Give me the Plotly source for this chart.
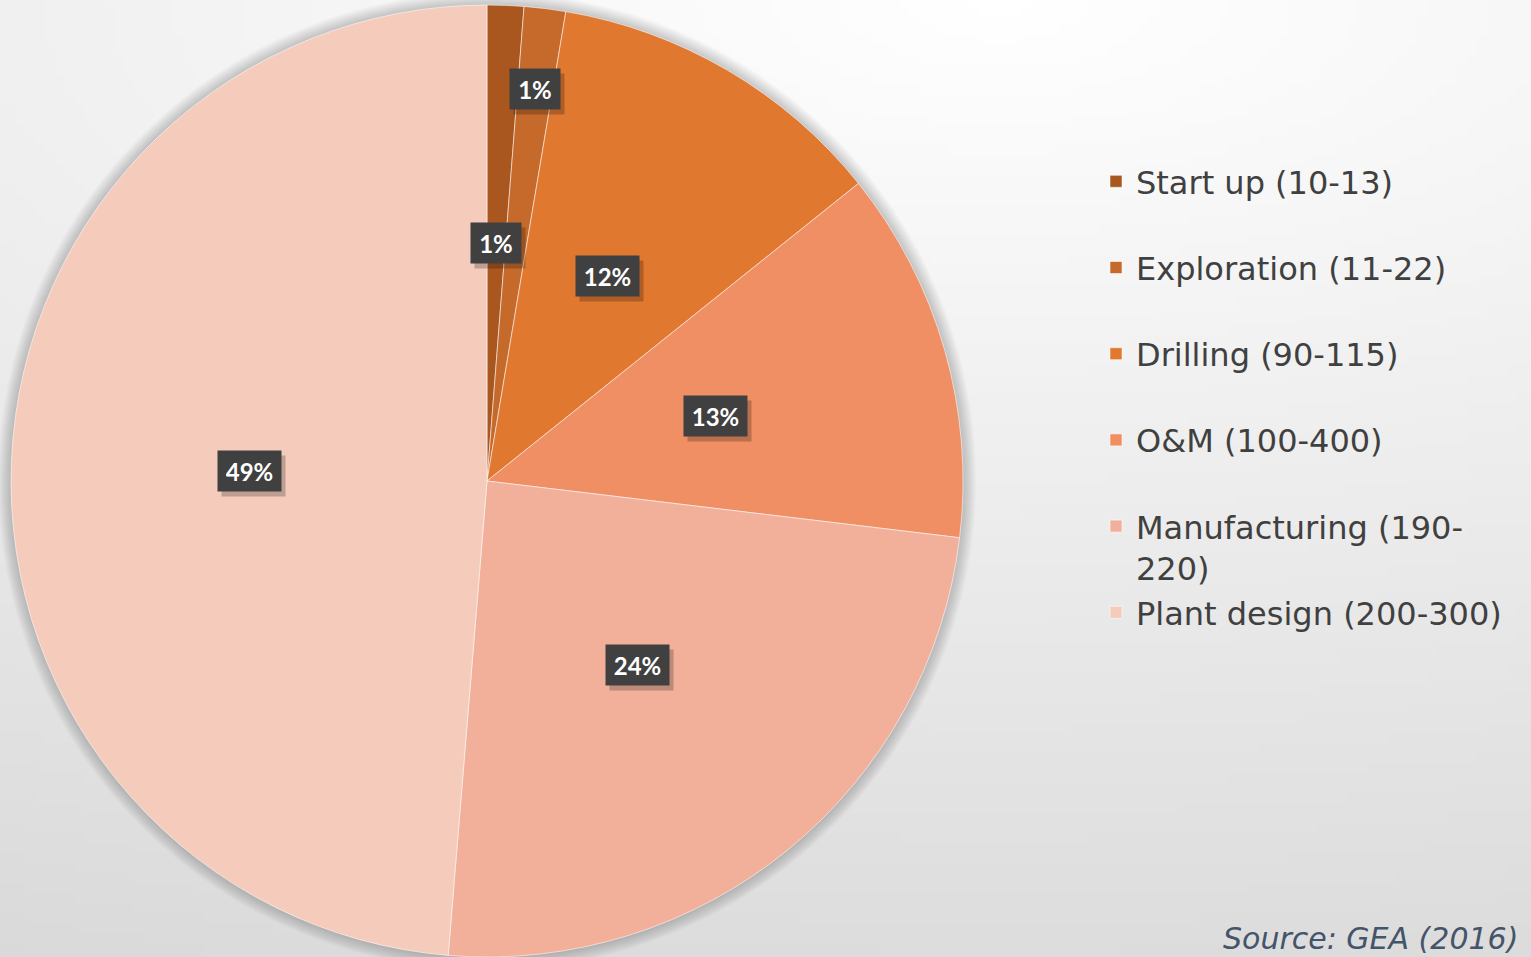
import math, zlib, struct, base64
import plotly.graph_objects as go

# ---------------- data ----------------
labels = ["Start up (10-13)", "Exploration (11-22)", "Drilling (90-115)",
          "O&M (100-400)", "Manufacturing (190-<br>220)", "Plant design (200-300)"]
shares = [1.24, 1.41, 11.6, 12.65, 24.4, 48.7]
colors = ["#a9561f", "#c66a2b", "#e07830", "#ef8f63", "#f2b09a", "#f5cbbc"]
label_radius = [0.5, 0.83, 0.5, 0.5, 0.5, 0.5]
source_text = "Source: GEA (2016)"

W, H = 1531, 957
CX, CY, R = 487, 481, 476  # pie center / radius in px (from top-left)

# ---------------- background gradient (PNG data URI) ----------------
def make_png(w, h, fn):
    raw = bytearray()
    for j in range(h):
        raw.append(0)
        for i in range(w):
            raw.append(fn(i, j))
    def chunk(t, d):
        return struct.pack(">I", len(d)) + t + d + struct.pack(">I", zlib.crc32(t + d) & 0xffffffff)
    data = b"\x89PNG\r\n\x1a\n" + chunk(b"IHDR", struct.pack(">IIBBBBB", w, h, 8, 0, 0, 0, 0)) \
        + chunk(b"IDAT", zlib.compress(bytes(raw))) + chunk(b"IEND", b"")
    return "data:image/png;base64," + base64.b64encode(data).decode()

gw, gh = 154, 96
def grad(i, j):
    X, Y = i * W / (gw - 1), j * H / (gh - 1)
    drop = math.hypot((X - 1000) * 0.015, Y * 0.036)
    return max(0, min(255, int(round(255 - drop))))
bg_uri = make_png(gw, gh, grad)

# ---------------- figure ----------------
fig = go.Figure()
fig.add_trace(go.Pie(
    labels=[l + "<br>\u00a0" if "<br>" not in l else l for l in labels],
    values=shares,
    sort=False,
    direction="clockwise",
    rotation=0,
    marker=dict(colors=colors, line=dict(color="rgba(255,255,255,0.55)", width=1)),
    textinfo="none",
    hoverinfo="label+percent",
    domain=dict(x=[(CX - R) / W, (CX + R) / W], y=[(H - (CY + R)) / H, (H - (CY - R)) / H]),
    showlegend=True,
))

# percentage labels positioned at slice mid-angles
total = sum(shares)
annotations = []
cum = 0.0
for v, rf in zip(shares, label_radius):
    mid = (cum + v / 2) / total * 2 * math.pi
    cum += v
    px = CX + rf * R * math.sin(mid)
    py = CY - rf * R * math.cos(mid)
    txt = f"{round(v / total * 100)}%"
    ndig = len(txt) - 1
    bw = 13 * ndig + 21
    common = dict(x=px / W, y=1 - py / H, xref="paper", yref="paper", showarrow=False,
                  borderpad=8, height=24, width=bw, xanchor="center", yanchor="middle")
    annotations.append(dict(text="\u00a0", font=dict(family="Lato", size=24, color="rgba(0,0,0,0)"),
                            bgcolor="rgba(0,0,0,0.22)", xshift=4, yshift=-5, **common))
    annotations.append(dict(text=f"<b>{txt}</b>", font=dict(family="Lato", size=24, color="white"),
                            bgcolor="#404040", **common))

annotations.append(dict(text=f"<i>{source_text}</i>", x=1519 / W, y=0, xref="paper", yref="paper",
                        xanchor="right", yanchor="bottom", showarrow=False, borderpad=0,
                        font=dict(family="DejaVu Sans", size=30, color="#44546a")))

# soft shadow around the pie
shapes = []
for k in range(1, 11):
    rr = R + k * 1.3
    shapes.append(dict(type="circle", xref="paper", yref="paper", layer="below",
                       x0=(CX - rr) / W, x1=(CX + rr) / W, y0=1 - (CY + rr) / H, y1=1 - (CY - rr) / H,
                       fillcolor="rgba(0,0,0,0.018)", line=dict(width=0)))

fig.update_layout(
    width=W, height=H,
    margin=dict(l=0, r=0, t=0, b=0),
    paper_bgcolor="#e8e8e8",
    plot_bgcolor="rgba(0,0,0,0)",
    images=[dict(source=bg_uri, xref="paper", yref="paper", x=0, y=1, sizex=1, sizey=1,
                 sizing="stretch", layer="below", xanchor="left", yanchor="top")],
    shapes=shapes,
    annotations=annotations,
    legend=dict(x=1096 / W, xanchor="left", y=1 - 154 / H, yanchor="top",
                font=dict(family="DejaVu Sans", size=32, color="#404040"),
                bgcolor="rgba(0,0,0,0)", valign="top", traceorder="normal"),
)

fig.write_html("out.html", config={"displayModeBar": False},
               post_script="document.body.style.margin='0';document.body.style.overflow='hidden';")
